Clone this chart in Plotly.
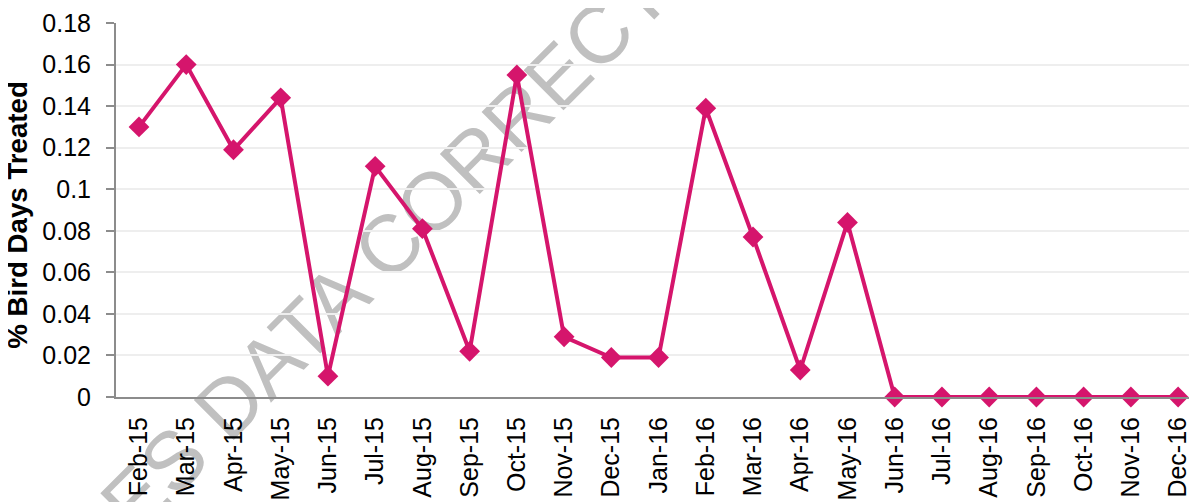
import plotly.graph_objects as go

months = ["Feb-15", "Mar-15", "Apr-15", "May-15", "Jun-15", "Jul-15", "Aug-15",
          "Sep-15", "Oct-15", "Nov-15", "Dec-15", "Jan-16", "Feb-16", "Mar-16",
          "Apr-16", "May-16", "Jun-16", "Jul-16", "Aug-16", "Sep-16", "Oct-16",
          "Nov-16", "Dec-16"]
pct_treated = [0.130, 0.160, 0.119, 0.144, 0.010, 0.111, 0.081, 0.022, 0.155,
               0.029, 0.019, 0.019, 0.139, 0.077, 0.013, 0.084, 0.0, 0.0, 0.0,
               0.0, 0.0, 0.0, 0.0]
y_tick_vals = [0, 0.02, 0.04, 0.06, 0.08, 0.1, 0.12, 0.14, 0.16, 0.18]
y_tick_text = ["0", "0.02", "0.04", "0.06", "0.08", "0.1", "0.12", "0.14", "0.16", "0.18"]
y_title = "% Bird Days Treated"
watermark = "REQUIRES DATA CORRECTION"

FONT = "Arial, Liberation Sans, sans-serif"
PINK = "#D5156C"
AXIS = "#8C8C8C"

fig = go.Figure()
fig.add_trace(go.Scatter(
    x=months, y=pct_treated, mode="lines+markers",
    line=dict(color=PINK, width=4),
    marker=dict(symbol="diamond", size=16, color=PINK),
    cliponaxis=False, showlegend=False,
))

cx, cy = 0.1869, 0.2487
fig.add_shape(
    type="rect", xref="paper", yref="paper",
    x0=cx - 0.001, x1=cx + 0.001, y0=cy - 0.001, y1=cy + 0.001,
    line=dict(width=0), fillcolor="rgba(0,0,0,0)", layer="between",
    label=dict(text=watermark, textangle=-45, textposition="middle center",
               font=dict(family=FONT, size=82, color="#C0C0C0")),
)

fig.add_annotation(
    text="<b>" + y_title + "</b>", xref="paper", yref="paper",
    x=(18 - 116) / 1081, y=0.487, textangle=-90, showarrow=False,
    font=dict(family=FONT, size=27.7, color="#000000"),
    xanchor="center", yanchor="middle",
)

# page body has an 8px margin, so the figure is sized/placed to compensate
fig.update_layout(
    width=1189, height=494,
    margin=dict(l=108, r=0, t=15, b=105, autoexpand=False),
    paper_bgcolor="white", plot_bgcolor="white",
    font=dict(family=FONT, size=25, color="#000000"),
)
fig.update_xaxes(
    type="category", range=[-0.487, 22.40], tickangle=-90,
    showline=True, linecolor=AXIS, linewidth=2, showgrid=False,
    ticks="", tickfont=dict(size=25), ticklabelstandoff=8, automargin=False,
)
fig.update_yaxes(
    range=[0, 0.18], tickvals=y_tick_vals, ticktext=y_tick_text,
    showline=True, linecolor=AXIS, linewidth=2,
    ticks="outside", ticklen=8, tickcolor=AXIS, tickwidth=2,
    showgrid=True, gridcolor="#EEEEEE", gridwidth=2, zeroline=False,
    tickfont=dict(size=25), ticklabelstandoff=10, automargin=False,
)

fig.write_html("out.html")
